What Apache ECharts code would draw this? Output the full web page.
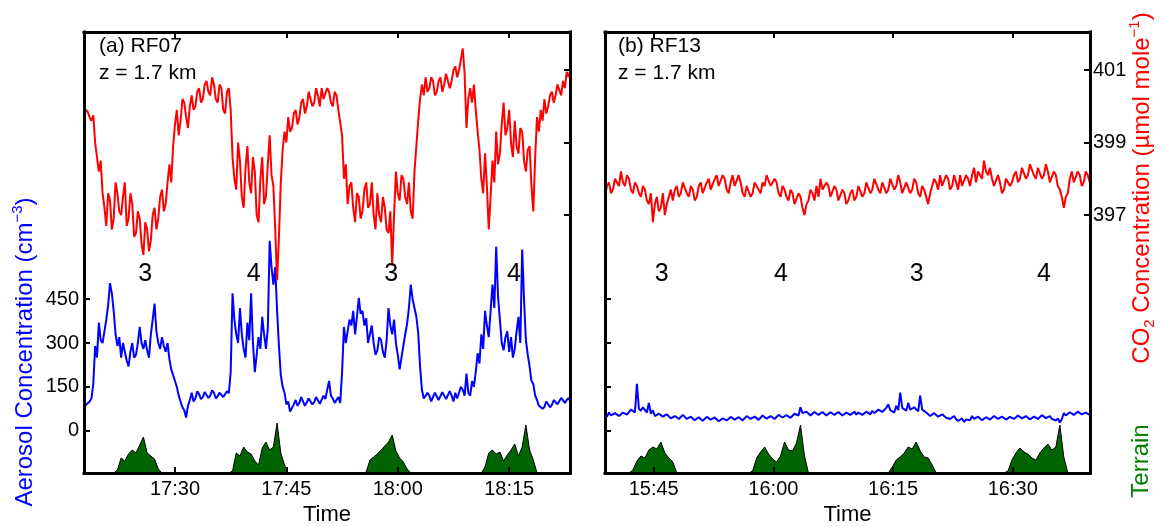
<!DOCTYPE html>
<html>
<head>
<meta charset="utf-8">
<script src="https://cdn.jsdelivr.net/npm/echarts@6/dist/echarts.min.js"></script>
<style>
  html, body { margin: 0; padding: 0; background: #fff; }
  #chart { width: 1165px; height: 527px; }
</style>
</head>
<body>
<div id="chart"></div>
<script>
const FONT = "'Liberation Sans', Arial, Helvetica, sans-serif";

// RF07 flight leg (times in minutes after midnight)
// CO2 and aerosol: one sample every 15 s from 17:17:45
const rf07Start = 1037.75;
const rf07Step = 0.25;
// CO2 mixing ratio, µmol mole^-1
const rf07CO2 = [
  399.95, 400.0, 399.85, 399.7, 399.6, 399.75, 399.0, 398.6, 398.2, 398.5,
  397.6, 397.2, 396.7, 397.6, 397.4, 396.6, 396.9, 397.9, 397.6, 397.1,
  397.0, 397.5, 397.9, 396.7, 396.9, 397.6, 397.3, 396.4, 396.5, 397.1,
  396.9, 396.2, 395.9, 396.8, 396.6, 396.0, 396.3, 397.0, 397.2, 396.6,
  396.9, 397.5, 397.7, 397.1, 397.3, 397.9, 398.4, 397.9, 398.9, 399.5,
  399.9, 399.2, 399.6, 400.2, 400.1, 399.7, 399.4, 400.0, 400.3, 399.9,
  400.0, 400.4, 400.5, 400.1, 400.2, 400.6, 400.7, 400.4, 400.3, 400.8,
  400.6, 400.2, 400.1, 400.6, 400.5, 399.9, 399.8, 400.4, 400.5, 399.9,
  398.6, 398.0, 397.7, 399.0, 398.5, 397.5, 397.2, 398.3, 398.9, 397.9,
  397.6, 398.6, 398.2, 397.0, 396.8, 398.0, 398.6, 397.3, 397.5, 398.4,
  399.2, 398.1, 397.8, 396.6, 395.2, 396.4, 397.9, 398.8, 399.3, 399.0,
  399.7, 399.3, 399.4, 399.8, 399.9, 399.5, 399.7, 400.1, 400.2, 399.8,
  400.0, 400.4, 400.4, 400.0, 400.1, 400.5, 400.3, 400.0, 400.5, 400.2,
  400.2, 400.5, 400.4, 400.1, 400.0, 400.4, 400.3, 399.9, 399.9, 399.2,
  398.0, 398.4, 397.3, 397.8, 397.9, 397.2, 396.8, 397.6, 397.5, 396.9,
  397.1, 397.7, 397.9, 397.2, 397.3, 397.9, 397.0, 396.6, 397.6, 397.0,
  396.8, 397.5, 397.2, 396.6, 396.5, 397.1, 395.6, 397.0, 398.2, 397.6,
  397.4, 398.1, 398.0, 397.5, 397.3, 397.9, 397.1, 396.9, 398.2, 398.9,
  399.6, 400.2, 400.6, 400.3, 400.8, 400.4, 400.5, 400.8, 400.7, 400.3,
  400.4, 400.7, 400.8, 400.4, 400.6, 400.9, 400.9, 400.5, 400.7, 401.0,
  401.1, 400.8, 401.0, 401.3, 401.6, 400.9, 399.4, 400.2, 400.5, 400.1,
  400.6, 399.9, 399.3, 398.8, 398.0, 397.6, 398.7, 397.8, 396.6, 397.5,
  398.5, 397.9, 399.3, 398.4, 398.7, 399.5, 400.1, 399.2, 399.4, 399.9,
  399.0, 398.6, 399.6, 398.9, 398.7, 399.4, 399.3, 398.5, 398.2, 398.8,
  398.9, 397.8, 397.1, 398.6, 399.7, 399.3, 399.9, 399.6, 400.2, 399.8,
  400.0, 400.3, 400.4, 400.1, 400.3, 400.6, 400.6, 400.3, 400.7, 400.5,
  400.95, 400.8, 401.0
];
// aerosol number concentration, cm^-3
const rf07Aerosol = [
  95, 88, 82, 100, 110, 160, 290, 250, 370, 310,
  300, 340, 380, 430, 505, 470, 410, 330, 290, 320,
  250, 300, 270, 240, 220, 270, 300, 250, 260, 300,
  355, 300, 280, 310, 275, 250, 330, 380, 435, 340,
  300, 280, 320, 290, 270, 300, 245, 210, 190, 170,
  150, 120, 100, 80, 70, 45, 85, 105, 130, 100,
  110, 135, 125, 108, 115, 132, 135, 112, 120, 138,
  130, 110, 118, 130, 135, 115, 120, 135, 128, 200,
  470, 380, 330, 300, 420, 330, 280, 250, 370, 310,
  470, 300, 200, 260, 320, 280, 390, 330, 280, 350,
  650, 560, 500, 560, 410, 290, 190, 150, 130, 90,
  100, 65, 70, 90, 105, 85, 95, 115, 110, 85,
  90, 110, 105, 90, 98, 115, 112, 92, 95, 120,
  108, 140, 170, 120, 110, 95, 100, 115, 95, 200,
  355, 300, 340, 380, 360, 410, 330, 390, 455, 400,
  410, 360, 385, 300, 330, 360, 300, 260, 275, 320,
  310, 270, 250, 310, 420, 360, 330, 380, 300, 260,
  210, 250, 290, 330, 365, 420, 500, 450, 420, 390,
  335, 220, 140, 110, 115, 130, 120, 100, 105, 130,
  125, 105, 110, 132, 128, 108, 112, 135, 120, 100,
  130, 110, 115, 150, 140, 120, 195, 130, 120, 170,
  150, 200, 265, 230, 330, 280, 410, 360, 320, 410,
  500, 420, 630, 460, 380, 300, 275, 320, 340, 270,
  320, 250, 280, 340, 390, 300, 620, 450, 310, 260,
  220, 170, 160, 120, 105, 85, 90, 75, 82, 100,
  95, 80, 88, 105, 105, 90, 95, 112, 110, 95,
  105, 112, 100
];
// terrain height under the track, m above the valley floor, every 30 s
const rf07TerrainStep = 0.5;
const rf07Terrain = [
  0, 0, 0, 0, 0, 0, 0, 0, 0, 30,
  150, 120, 190, 230, 200, 280, 360, 200, 170, 140,
  40, 0, 0, 0, 0, 0, 0, 0, 0, 0,
  0, 0, 0, 0, 0, 0, 0, 0, 0, 0,
  20, 200, 170, 260, 210, 190, 120, 80, 250, 310,
  230, 260, 500, 200, 80, 0, 0, 0, 0, 0,
  0, 0, 0, 0, 0, 0, 0, 0, 0, 0,
  0, 0, 0, 0, 0, 0, 10, 130, 160, 190,
  230, 270, 310, 380, 220, 150, 110, 40, 0, 0,
  0, 0, 0, 0, 0, 0, 0, 0, 0, 0,
  0, 0, 0, 0, 0, 0, 0, 0, 60, 200,
  230, 190, 210, 120, 180, 230, 290, 170, 260, 480,
  230, 130, 0, 0, 0, 0, 0, 0, 0, 0,
  0, 0
];

// RF13 flight leg: CO2 and aerosol every 15 s from 15:38:54
const rf13Start = 938.9;
const rf13Step = 0.25;
const rf13CO2 = [
  397.5, 397.8, 397.9, 397.6, 397.7, 398.0, 398.0, 397.8, 398.2, 397.9,
  397.8, 398.1, 398.0, 397.7, 397.6, 397.9, 397.8, 397.6, 397.5, 397.8,
  397.7, 397.4, 397.3, 397.6, 396.8, 397.3, 397.5, 397.1, 397.2, 397.6,
  397.0, 397.3, 397.5, 397.7, 397.4, 397.7, 397.8, 397.5, 397.6, 397.9,
  397.9, 397.6, 397.5, 397.8, 397.7, 397.4, 397.5, 397.8, 397.9, 397.6,
  397.6, 397.9, 398.0, 397.7, 397.7, 398.0, 398.1, 397.8, 397.8, 398.1,
  398.0, 397.7, 397.6, 397.9, 398.1, 397.8, 397.8, 398.1, 397.9, 397.6,
  397.5, 397.8, 397.8, 397.5, 397.6, 397.9, 397.9, 397.7, 397.6, 397.9,
  397.8, 398.1, 398.1, 397.8, 397.8, 398.0, 397.9, 397.6, 397.5, 397.8,
  397.7, 397.5, 397.4, 397.7, 397.6, 397.3, 397.3, 397.6, 397.5, 397.2,
  397.0, 397.3, 397.4, 397.7, 397.6, 397.4, 397.8, 397.5, 398.0, 397.7,
  397.7, 397.9, 397.8, 397.5, 397.5, 397.8, 397.7, 397.4, 397.4, 397.7,
  397.6, 397.3, 397.4, 397.6, 397.7, 397.4, 397.5, 397.8, 397.8, 397.5,
  397.6, 397.9, 397.9, 397.6, 397.7, 398.0, 398.0, 397.7, 397.6, 397.9,
  397.9, 397.6, 397.7, 398.0, 398.0, 397.7, 397.8, 398.1, 397.9, 397.6,
  397.6, 397.9, 397.9, 397.6, 397.7, 398.0, 397.9, 397.6, 397.5, 397.8,
  397.7, 397.5, 397.3, 397.6, 397.8, 398.0, 397.9, 397.7, 398.1, 397.8,
  397.8, 398.1, 398.0, 397.7, 397.8, 398.1, 397.9, 397.7, 398.1, 397.8,
  397.8, 398.1, 398.0, 397.8, 398.1, 398.3, 397.9, 398.2, 398.2, 398.0,
  398.5, 398.2, 398.1, 398.3, 398.0, 397.8, 397.8, 398.1, 397.9, 397.6,
  397.7, 398.0, 398.0, 397.8, 397.9, 398.1, 398.2, 397.9, 398.0, 398.3,
  398.3, 398.0, 398.1, 398.4, 398.4, 398.1, 398.0, 398.3, 398.3, 398.0,
  398.1, 398.4, 398.2, 397.9, 397.9, 398.2, 398.1, 397.8, 397.7, 397.5,
  397.2, 397.5, 397.6, 398.0, 398.2, 397.9, 397.9, 398.2, 398.1, 397.8,
  397.9, 398.2, 398.1, 397.9, 398.0
];
const rf13Aerosol = [
  55, 48, 62, 52, 50, 60, 58, 50, 52, 62,
  64, 55, 60, 72, 70, 62, 160, 75, 68, 80,
  75, 62, 95, 58, 70, 50, 48, 58, 62, 48,
  45, 56, 55, 42, 40, 50, 52, 40, 44, 54,
  50, 40, 38, 48, 46, 36, 35, 46, 44, 34,
  38, 47, 48, 38, 36, 45, 42, 32, 30, 42,
  45, 35, 38, 47, 48, 38, 36, 46, 44, 35,
  40, 50, 52, 40, 38, 48, 46, 37, 42, 52,
  50, 41, 40, 50, 48, 40, 44, 54, 55, 45,
  45, 53, 52, 44, 48, 58, 60, 52, 80, 60,
  55, 65, 60, 52, 58, 64, 63, 54, 56, 64,
  60, 52, 54, 63, 62, 54, 57, 64, 60, 52,
  53, 62, 61, 54, 58, 65, 55, 62, 62, 54,
  57, 65, 60, 56, 68, 60, 62, 72, 75, 64,
  66, 78, 90, 70, 72, 62, 85, 70, 130, 78,
  80, 68, 95, 72, 70, 80, 85, 66, 120, 72,
  75, 62, 60, 50, 52, 60, 58, 48, 48, 56,
  55, 44, 50, 40, 45, 50, 40, 33, 35, 42,
  30, 38, 42, 36, 50, 40, 40, 48, 46, 36,
  38, 46, 48, 38, 42, 50, 50, 40, 40, 48,
  46, 38, 38, 47, 48, 40, 44, 52, 52, 42,
  42, 50, 48, 38, 40, 48, 50, 40, 45, 53,
  52, 43, 44, 50, 40, 46, 35, 42, 28, 40,
  60, 52, 55, 63, 62, 54, 58, 65, 64, 56,
  56, 62, 60, 54, 58
];
const rf13TerrainStep = 0.5;
const rf13Terrain = [
  0, 0, 0, 0, 0, 0, 0, 30, 120, 170,
  150, 230, 260, 240, 310, 200, 150, 110, 0, 0,
  0, 0, 0, 0, 0, 0, 0, 0, 0, 0,
  0, 0, 0, 0, 0, 0, 0, 20, 150, 210,
  260, 190, 140, 110, 170, 310, 230, 220, 300, 480,
  170, 0, 0, 0, 0, 0, 0, 0, 0, 0,
  0, 0, 0, 0, 0, 0, 0, 0, 0, 0,
  0, 0, 60, 130, 160, 200, 260, 240, 310, 220,
  160, 150, 80, 0, 0, 0, 0, 0, 0, 0,
  0, 0, 0, 0, 0, 0, 0, 0, 0, 0,
  0, 20, 130, 200, 250, 210, 190, 150, 130, 200,
  250, 290, 230, 260, 480, 160, 0, 0, 0, 0,
  0, 0, 0
];

// flight-pattern numbers written above each ridge crossing
const patternLabels = ['3', '4', '3', '4'];
const rf07PatternTimes = [1046.0, 1060.6, 1079.1, 1095.65];
const rf13PatternTimes = [946.0, 960.95, 977.95, 993.9];
const patternLevel = 537;

const rf07TimeTicks = [1050, 1065, 1080, 1095];
const rf13TimeTicks = [945, 960, 975, 990];
const aerosolTicks = [0, 150, 300, 450];
const co2Ticks = [397, 399, 401];

function series(start, step, values) {
  return values.map((v, i) => [start + i * step, v]);
}
function clock(m) {
  const h = Math.floor(m / 60);
  const mm = Math.round(m - h * 60);
  return h + ':' + (mm < 10 ? '0' : '') + mm;
}

const frame = { show: true, onZero: false, lineStyle: { color: '#000', width: 3, cap: 'square' } };
const tick = (values) => ({
  show: true, inside: true, length: 6, customValues: values,
  lineStyle: { color: '#000', width: 2 }
});

function timeAxes(grid, min, max, ticks) {
  return [
    {
      gridIndex: grid, type: 'value', position: 'bottom', min: min, max: max, z: 10,
      axisLine: frame, axisTick: tick(ticks), splitLine: { show: false },
      axisLabel: {
        customValues: ticks, formatter: clock, margin: 6,
        color: '#000', fontFamily: FONT, fontSize: 20
      },
      name: 'Time', nameLocation: 'middle', nameGap: 28,
      nameTextStyle: { color: '#000', fontFamily: FONT, fontSize: 22 }
    },
    {
      gridIndex: grid, type: 'value', position: 'top', min: min, max: max, z: 10,
      axisLine: frame, axisTick: tick(ticks), splitLine: { show: false },
      axisLabel: { show: false }
    }
  ];
}

function valueAxes(grid, aerosolLabels, co2Labels) {
  return [
    {
      gridIndex: grid, type: 'value', position: 'left', min: -145, max: 1365, z: 10,
      axisLine: frame, axisTick: tick(aerosolTicks), splitLine: { show: false },
      axisLabel: {
        show: aerosolLabels, customValues: aerosolTicks, margin: 5,
        color: '#000', fontFamily: FONT, fontSize: 20
      }
    },
    {
      gridIndex: grid, type: 'value', position: 'right', min: 389.88, max: 402.05, z: 10,
      axisLine: frame, axisTick: tick(co2Ticks), splitLine: { show: false },
      axisLabel: {
        show: co2Labels, customValues: co2Ticks, margin: 3,
        color: '#000', fontFamily: FONT, fontSize: 20
      }
    },
    { gridIndex: grid, type: 'value', min: 0, max: 4410, show: false, splitLine: { show: false } }
  ];
}

function panelSeries(xi, yi, start, step, co2, aerosol, terrainStep, terrain, labelTimes) {
  return [
    {
      name: 'Terrain', type: 'line', xAxisIndex: xi, yAxisIndex: yi + 2,
      data: series(start, terrainStep, terrain), showSymbol: false, z: 1,
      lineStyle: { color: '#000', width: 1 },
      areaStyle: { color: '#006400', opacity: 1 }
    },
    {
      name: 'Aerosol', type: 'line', xAxisIndex: xi, yAxisIndex: yi,
      data: series(start, step, aerosol), showSymbol: false, z: 3,
      lineStyle: { color: '#0000ff', width: 2 }
    },
    {
      name: 'CO2', type: 'line', xAxisIndex: xi, yAxisIndex: yi + 1,
      data: series(start, step, co2), showSymbol: false, z: 4,
      lineStyle: { color: '#ff0000', width: 2 }
    },
    {
      name: 'Pattern', type: 'scatter', xAxisIndex: xi, yAxisIndex: yi,
      data: labelTimes.map((t, i) => [t, patternLevel, patternLabels[i]]),
      symbolSize: 0, itemStyle: { color: '#000', opacity: 1 }, z: 5,
      label: {
        show: true, position: 'inside', formatter: p => p.value[2], opacity: 1,
        color: '#000', textBorderWidth: 0, fontFamily: FONT, fontSize: 25
      }
    }
  ];
}

function panelTitle(x, title) {
  return [
    { type: 'text', x: x, y: 46, z: 20,
      style: { text: title, fill: '#000', font: '21px ' + FONT, align: 'left', verticalAlign: 'middle' } },
    { type: 'text', x: x, y: 73, z: 20,
      style: { text: 'z = 1.7 km', fill: '#000', font: '21px ' + FONT, align: 'left', verticalAlign: 'middle' } }
  ];
}

function sideLabel(x, y, text, color) {
  return {
    type: 'text', x: x, y: y, rotation: Math.PI / 2, z: 20,
    style: {
      text: text, align: 'center', verticalAlign: 'middle',
      rich: {
        t: { fontSize: 24, fontFamily: FONT, fill: color, color: color, lineHeight: 30 },
        s: { fontSize: 15, fontFamily: FONT, fill: color, color: color, lineHeight: 15, verticalAlign: 'top' },
        b: { fontSize: 15, fontFamily: FONT, fill: color, color: color, lineHeight: 15, verticalAlign: 'bottom' }
      }
    }
  };
}

const chart = echarts.init(document.getElementById('chart'), null, { renderer: 'canvas' });
chart.setOption({
  animation: false,
  backgroundColor: '#fff',
  grid: [
    { left: 84, top: 32, width: 486, height: 441, containLabel: false, outerBoundsMode: 'none' },
    { left: 605, top: 32, width: 485, height: 441, containLabel: false, outerBoundsMode: 'none' }
  ],
  xAxis: [
    ...timeAxes(0, 1037.75, 1103.19, rf07TimeTicks),
    ...timeAxes(1, 938.9, 999.68, rf13TimeTicks)
  ],
  yAxis: [
    ...valueAxes(0, true, false),
    ...valueAxes(1, false, true)
  ],
  series: [
    ...panelSeries(0, 0, rf07Start, rf07Step, rf07CO2, rf07Aerosol, rf07TerrainStep, rf07Terrain, rf07PatternTimes),
    ...panelSeries(2, 3, rf13Start, rf13Step, rf13CO2, rf13Aerosol, rf13TerrainStep, rf13Terrain, rf13PatternTimes)
  ],
  graphic: [
    ...panelTitle(99, '(a) RF07'),
    ...panelTitle(618, '(b) RF13'),
    sideLabel(25, 352, '{t|Aerosol Concentration (cm}{s|−3}{t|)}', '#0000ff'),
    sideLabel(1142, 188, '{t|CO}{b|2}{t| Concentration (µmol mole}{s|−1}{t|)}', '#ff0000'),
    sideLabel(1141, 461, '{t|Terrain}', '#008000')
  ]
});
</script>
</body>
</html>
